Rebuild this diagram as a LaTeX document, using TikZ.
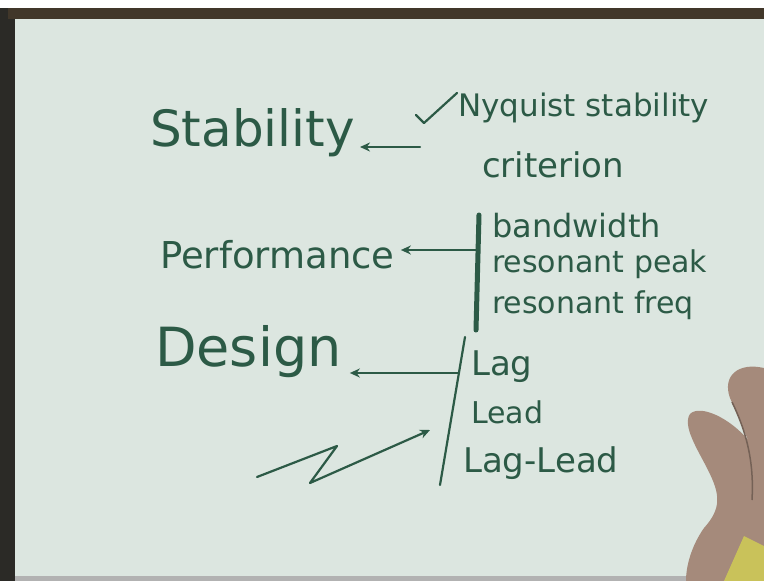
\documentclass[tikz,border=0pt]{standalone}
\usepackage{fontspec}
\setmainfont{DejaVu Sans}
\usetikzlibrary{positioning,arrows.meta}
\definecolor{ink}{HTML}{2C5A46}
\definecolor{paper}{HTML}{DCE6E0}
\definecolor{frame}{HTML}{2B2A26}
\definecolor{skin}{HTML}{A58A7B}
\definecolor{marker}{HTML}{C9C25A}

\begin{document}
\begin{tikzpicture}[x=1pt,y=-1pt,
	bigword/.style={text=ink,font=\fontsize{#1}{#1}\selectfont,inner sep=0pt,anchor=west},
	smallword/.style={text=ink,font=\fontsize{#1}{#1}\selectfont,inner sep=0pt,anchor=west},
	smallword/.default=30,
	inkline/.style={draw=ink,line width=2.2pt,line cap=round,line join=round},
	pointer/.style={inkline,-{Stealth[length=10pt,width=9pt]}}]

		% board
		\fill[white] (0,0) rectangle (764,581);
		\fill[paper] (15,18) rectangle (764,576);
		\fill[frame] (0,8) rectangle (15,581);
		\fill[frame!85!brown] (8,8) rectangle (764,19);
		\fill[gray!60] (15,576) rectangle (764,581);

		% left column
		\node[bigword=50]						(stab)	at (150,133)	{Stability};
		\node[bigword=37]						(perf)	at (160,255)	{Performance};
		\node[bigword=54]						(des)	at (155,352)	{Design};

		% stability
		\node[smallword=31]						(nyq)	at (458,108)	{Nyquist stability};
		\node[smallword=34]						(crit)	at (482,165)	{criterion};
		\coordinate (nyqfoot) at (420,147);
		\draw[inkline] (416,115) -- (424,123) -- (457,93);
		\draw[pointer] (nyqfoot) -- ([xshift=5pt]stab.east |- nyqfoot);

		% performance
		\node[smallword=32]						(bw)	at (492,226)	{bandwidth};
		\node[smallword,below=11pt of bw.south west,anchor=north west]	(peak)	{resonant peak};
		\node[smallword,below=11pt of peak.south west,anchor=north west]	(freq)	{resonant freq};
		\coordinate (pbtop) at (479,215);
		\coordinate (pbbot) at (476,330);
		\coordinate (pbmid) at (478,250);
		\draw[inkline,line width=5pt] (pbtop) -- (pbbot);
		\draw[pointer] (pbmid) -- ([xshift=6pt]perf.east |- pbmid);

		% design
		\node[smallword=34]						(lag)	at (471,367)	{Lag};
		\node[smallword=30]						(lead)	at (471,412)	{Lead};
		\node[smallword=34]						(lagld)	at (463,463)	{Lag-Lead};
		\coordinate (dbtop) at (465,337);
		\coordinate (dbbot) at (440,485);
		\coordinate (dbmid) at (459,373);
		\coordinate (zin) at (430,430);
		\draw[inkline] (dbtop) -- (dbbot);
		\draw[pointer] (dbmid) -- ([xshift=8pt]des.east |- dbmid);
		\draw[pointer] (257,477) -- (337,446) -- (310,483) -- (zin);

		% hand
		\fill[skin] (764,368) .. controls (738,362) and (722,376) .. (730,398) -- (748,440)
			.. controls (730,418) and (700,404) .. (690,414) .. controls (682,426) and (698,450) .. (708,470)
			.. controls (720,494) and (722,508) .. (704,528) .. controls (692,545) and (686,565) .. (686,581)
			-- (764,581) -- cycle;
		\draw[skin!70!black,line width=1.5pt] (732,402) .. controls (748,435) and (754,465) .. (752,500);
		\fill[marker] (724,581) -- (744,536) -- (764,546) -- (764,581) -- cycle;
	\end{tikzpicture}
\end{document}
